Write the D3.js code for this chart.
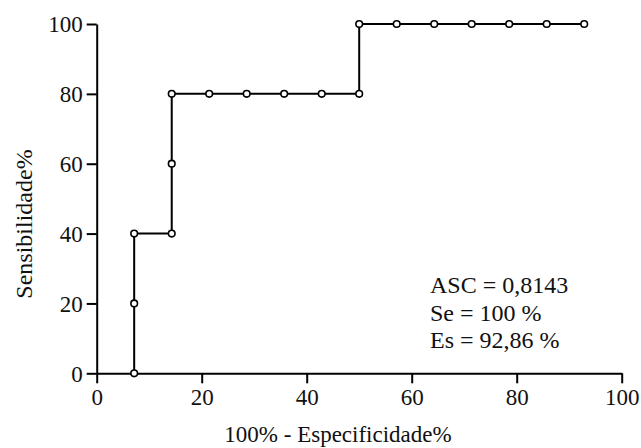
<!DOCTYPE html>
<html>
<head>
<meta charset="utf-8">
<script src="https://cdn.jsdelivr.net/npm/d3@7"></script>
<style>
  body { margin: 0; background: #fff; }
  svg text { font-family: "Liberation Serif", "Times New Roman", Times, serif; fill: #111; }
</style>
</head>
<body>
<svg width="641" height="448"></svg>
<script>
// ROC points: 100% - specificity (x) vs sensitivity (y)
var especificidade = [7.14, 7.14, 7.14, 14.29, 14.29, 14.29, 21.43, 28.57, 35.71, 42.86, 50, 50, 57.14, 64.29, 71.43, 78.57, 85.71, 92.86];
var sensibilidade = [0, 20, 40, 40, 60, 80, 80, 80, 80, 80, 80, 100, 100, 100, 100, 100, 100, 100];
var xTicks = [0, 20, 40, 60, 80, 100];
var yTicks = [0, 20, 40, 60, 80, 100];
var notes = ["ASC = 0,8143", "Se = 100 %", "Es = 92,86 %"];

var svg = d3.select("svg");

var x = d3.scaleLinear().domain([0, 100]).range([96.7, 621.7]);
var y = d3.scaleLinear().domain([0, 100]).range([373.3, 24]);

var points = especificidade.map(function(d, i) { return { x: d, y: sensibilidade[i] }; });

// axes
var xAxis = svg.append("g")
    .attr("transform", "translate(0," + y(0) + ")")
    .call(d3.axisBottom(x).tickValues(xTicks).tickSize(10).tickSizeOuter(0).tickPadding(5));

var yAxis = svg.append("g")
    .attr("transform", "translate(" + x(0) + ",0)")
    .call(d3.axisLeft(y).tickValues(yTicks).tickSize(10).tickSizeOuter(0).tickPadding(4));

[xAxis, yAxis].forEach(function(a) {
  a.attr("font-family", null).attr("font-size", null);
  a.select(".domain").attr("stroke", "#000").attr("stroke-width", 2);
  a.selectAll(".tick line").attr("stroke", "#000").attr("stroke-width", 2);
  a.selectAll(".tick text").style("font-size", "23px");
});
yAxis.selectAll(".tick text").attr("dy", "0.34em");

// step curve
var line = d3.line()
    .x(function(d) { return x(d.x); })
    .y(function(d) { return y(d.y); });

svg.append("path")
    .datum(points)
    .attr("fill", "none")
    .attr("stroke", "#000")
    .attr("stroke-width", 2)
    .attr("d", line);

svg.selectAll("circle.pt")
  .data(points)
  .enter().append("circle")
    .attr("class", "pt")
    .attr("cx", function(d) { return x(d.x); })
    .attr("cy", function(d) { return y(d.y); })
    .attr("r", 3.3)
    .attr("fill", "#fff")
    .attr("stroke", "#000")
    .attr("stroke-width", 1.6);

// titles
svg.append("text")
    .attr("x", 338)
    .attr("y", 442)
    .attr("text-anchor", "middle")
    .style("font-size", "23px")
    .text("100% - Especificidade%");

svg.append("text")
    .attr("transform", "translate(32,224) rotate(-90)")
    .attr("text-anchor", "middle")
    .style("font-size", "24px")
    .text("Sensibilidade%");

// annotation
svg.selectAll("text.note")
  .data(notes)
  .enter().append("text")
    .attr("class", "note")
    .attr("x", 430)
    .attr("y", function(d, i) { return 293 + i * 27.5; })
    .style("font-size", "24px")
    .text(function(d) { return d; });
</script>
</body>
</html>
